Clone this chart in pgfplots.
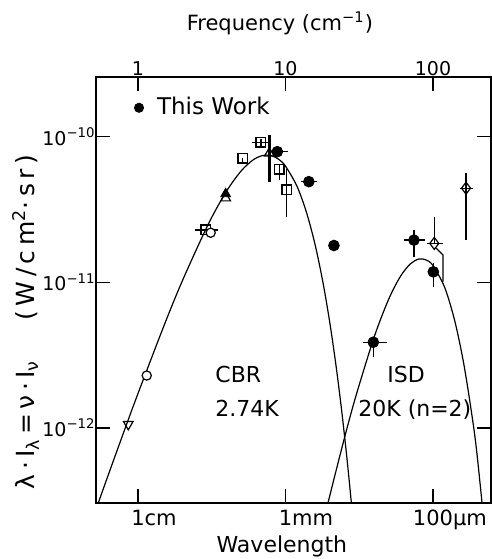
\documentclass[border=0pt]{standalone}
\usepackage{fontspec}
\setmainfont{DejaVu Sans}
\newfontfamily\ylfont{DejaVu Sans}[LetterSpace=18]
\usepackage{pgfplots}
\pgfplotsset{compat=1.18}
\begin{document}
\begin{tikzpicture}
\useasboundingbox (-47.85pt,-28pt) rectangle (198.15pt,251.5pt);
\begin{axis}[
  at={(0,0)}, anchor=south west,
  scale only axis, width=197.65pt, height=213pt,
  xmode=log, ymode=log,
  xmin=0.5166, xmax=247.3, ymin=3.05e-13, ymax=2.57e-10,
  xminorticks=false, yminorticks=false,
  tick align=inside, major tick length=7pt,
  every tick/.style={black, line width=0.8pt},
  axis line style={line width=0.9pt},
  xtick={1,10,100},
  xticklabels={1\rlap{cm},1\rlap{mm},100\rlap{μm}},
  xtick pos=bottom, ytick pos=both,
  ytick={1e-12,1e-11,1e-10},
  yticklabels={10\textsuperscript{−12},10\textsuperscript{−11},10\textsuperscript{−10}},
  xticklabel style={font=\fontsize{10.5}{12}\selectfont},
  yticklabel style={font=\fontsize{9.5}{11}\selectfont, xshift=3.5pt},
  xlabel={Wavelength},
  xlabel style={at={(axis description cs:0.471,-0.117)}, anchor=base, font=\fontsize{11}{13}\selectfont},
  ylabel={λ·I\textsubscript{λ}\,=\,ν·I\textsubscript{ν}\hspace{20pt}(W/cm\textsuperscript{2}·sr)},
  ylabel style={at={(axis description cs:-0.176,0.425)}, anchor=center, font=\ylfont\fontsize{12.5}{14}\selectfont},
  error bars/error mark=none,
]
% CBR 2.74 K blackbody
\addplot[black, line width=0.6pt, smooth] coordinates {
 (0.5,2.479e-13) (0.6,4.168e-13) (0.8,9.345e-13) (1,1.7245e-12) (1.5,5.033e-12)
 (2,1.0257e-11) (3,2.517e-11) (4,4.253e-11) (5,5.811e-11) (6,6.907e-11)
 (7,7.430e-11) (8,7.421e-11) (9,6.990e-11) (10,6.276e-11) (12,4.540e-11)
 (14,2.935e-11) (16,1.752e-11) (18,9.82e-12) (20,5.236e-12) (22,2.683e-12)
 (24,1.331e-12) (26,6.41e-13) (28,3.01e-13) (30,1.39e-13)};
% ISD 20 K (n=2)
\addplot[black, line width=0.6pt, smooth] coordinates {
 (18,2.23e-13) (20,3.45e-13) (25,8.40e-13) (30,1.653e-12) (40,4.235e-12)
 (50,7.63e-12) (60,1.094e-11) (70,1.335e-11) (80,1.444e-11) (90,1.424e-11)
 (100,1.303e-11) (120,9.23e-12) (140,5.51e-12) (160,2.92e-12) (180,1.40e-12)
 (200,6.25e-13) (250,6.6e-14)};
% connector from diamond
\addplot[black, line width=0.6pt] coordinates {(104.7,1.72e-11) (116.9,1.54e-11) (116.9,1.01e-11)};
% thick error bar with open triangle
\addplot[black, only marks, mark=triangle, mark size=2.8pt, mark options={fill=white, line width=0.6pt},
  error bars/.cd, y dir=both, y explicit, error bar style={line width=1.4pt}]
  coordinates {(7.77,7.69e-11) += (0,2.6e-11) -= (0,2.78e-11)};
% open squares
\addplot[black, only marks, mark=square, mark size=2.4pt, mark options={fill=white, line width=0.7pt},
  error bars/.cd, x dir=both, x explicit, y dir=both, y explicit, error bar style={line width=0.6pt}]
  coordinates {
  (6.82,9.16e-11) += (0.91,0.5e-11) -= (0.92,0.5e-11)
  (5.13,7.14e-11) += (0,0) -= (0,0.5e-11)
  (9.08,5.97e-11) += (0,0.4e-11) -= (0,0.92e-11)
  (10.19,4.31e-11) += (0,1.69e-11) -= (0,1.51e-11)
  (2.89,2.29e-11) += (0.60,0) -= (0.46,0)
  };
% filled triangle
\addplot[black, only marks, mark=triangle*, mark size=2.8pt] coordinates {(3.93,4.05e-11)};
% open triangle
\addplot[black, only marks, mark=triangle, mark size=2.8pt, mark options={fill=white, line width=0.6pt}] coordinates {(3.93,3.79e-11)};
% open circles
\addplot[black, only marks, mark=*, mark size=2.3pt, mark options={fill=white, line width=0.6pt}] coordinates {(3.11,2.19e-11) (1.146,2.29e-12)};
% inverted open triangle
\addplot[black, only marks, mark=triangle, mark size=2.8pt, mark options={fill=white, line width=0.6pt, rotate=180}] coordinates {(0.859,1.06e-12)};
% open diamonds
\addplot[black, only marks, mark=diamond, mark size=3pt, mark options={fill=white, line width=0.6pt},
  error bars/.cd, x dir=both, x explicit, y dir=both, y explicit, error bar style={line width=0.6pt}]
  coordinates {
  (102,1.85e-11) += (15.5,0.97e-11) -= (11.4,0)
  (167.5,4.43e-11) += (18.3,1.18e-11) -= (15.1,2.48e-11)
  };
% This Work (filled circles)
\addplot[black, only marks, mark=*, mark size=2.7pt,
  error bars/.cd, x dir=both, x explicit, y dir=both, y explicit, error bar style={line width=0.6pt}]
  coordinates {
  (8.80,7.89e-11) += (1.55,0) -= (0.9,0)
  (14.4,4.91e-11) += (1.9,0) -= (1.6,0)
  (21.3,1.79e-11) += (1.5,0) -= (1.5,0)
  (39.4,3.88e-12) += (9.1,0.36e-12) -= (6.0,0.79e-12)
  (74.3,1.95e-11) += (13.9,0.34e-11) -= (10.7,0.45e-11)
  (100.5,1.18e-11) += (0,0.18e-11) -= (0,0.25e-11)
  };
% legend
\addplot[black, only marks, mark=*, mark size=2.3pt] coordinates {(1.016,1.58e-10)};
\node[anchor=base west, inner sep=0pt, font=\fontsize{11.5}{13}\selectfont] at (axis cs:1.339,1.41e-10) {This Work};
\node[anchor=base west, inner sep=0pt, font=\fontsize{11}{13}\selectfont] at (axis cs:3.33,2.04e-12) {CBR};
\node[anchor=base west, inner sep=0pt, font=\fontsize{11}{13}\selectfont] at (axis cs:3.33,1.19e-12) {2.74K};
\node[anchor=base west, inner sep=0pt, font=\fontsize{11}{13}\selectfont] at (axis cs:48.8,2.04e-12) {ISD};
\node[anchor=base west, inner sep=0pt, font=\fontsize{11}{13}\selectfont] at (axis cs:31.0,1.19e-12) {20K (n=2)};
\end{axis}
\begin{axis}[
  at={(0,0)}, anchor=south west,
  scale only axis, width=197.65pt, height=213pt,
  xmode=log, ymode=log,
  xmin=0.5166, xmax=247.3, ymin=3.05e-13, ymax=2.57e-10,
  xminorticks=false, yminorticks=false,
  tick align=inside, major tick length=7pt,
  every tick/.style={black, line width=0.8pt},
  axis line style={line width=0.9pt},
  axis x line*=top, axis y line=none,
  xtick={1,10,100}, xticklabels={1,10,100},
  xticklabel style={font=\fontsize{9.5}{11}\selectfont, yshift=-3pt},
  xlabel={Frequency (cm\textsuperscript{−1})},
  xlabel style={at={(axis description cs:0.466,1.110)}, anchor=base, font=\fontsize{10.5}{12}\selectfont},
]
\end{axis}
\end{tikzpicture}
\end{document}
